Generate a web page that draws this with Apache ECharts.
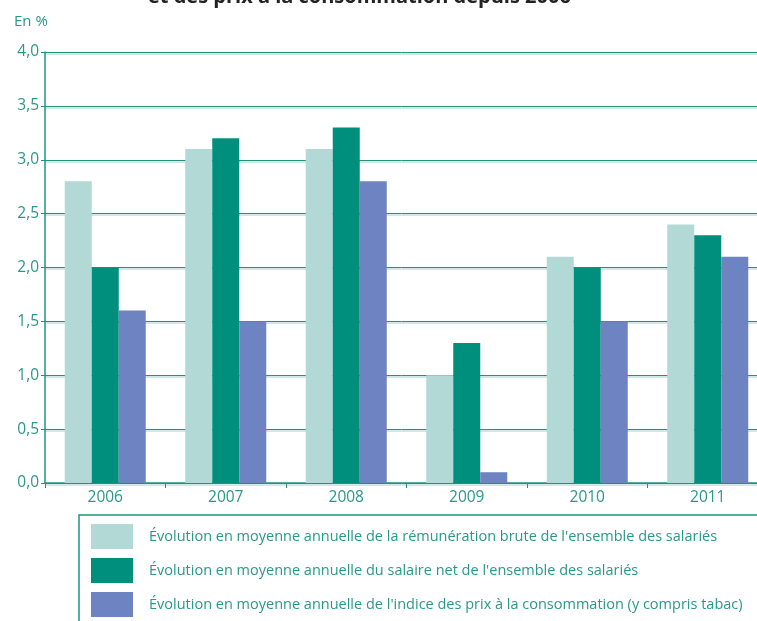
<!DOCTYPE html>
<html>
<head>
<meta charset="utf-8">
<script src="https://cdn.jsdelivr.net/npm/echarts@6/dist/echarts.min.js"></script>
<style>
html, body { margin: 0; padding: 0; background: #fff; }
#cn { width: 757px; height: 621px; }
</style>
</head>
<body>
<div id="cn"></div>
<script>
'use strict';

const arrYears = ['2006', '2007', '2008', '2009', '2010', '2011'];
const arrBrute = [2.8, 3.1, 3.1, 1.0, 2.1, 2.4];
const arrNet = [2.0, 3.2, 3.3, 1.3, 2.0, 2.3];
const arrPrix = [1.6, 1.5, 2.8, 0.1, 1.5, 2.1];
const arrNames = [
    "Évolution en moyenne annuelle de la rémunération brute de l'ensemble des salariés",
    "Évolution en moyenne annuelle du salaire net de l'ensemble des salariés",
    "Évolution en moyenne annuelle de l'indice des prix à la consommation (y compris tabac)"
];

const teal = '#1f9483';
const txtColor = '#2a9888';
const font = 'Open Sans';

const chart = echarts.init(document.getElementById('cn'), null, { renderer: 'canvas' });

const option = {
    animation: false,
    textStyle: { fontFamily: font },
    graphic: [{
            type: 'text',
            left: 148,
            top: -13,
            style: {
                text: 'et des prix à la consommation depuis 2006',
                font: 'bold 20px "Open Sans"',
                fill: '#222'
            }
        },
        {
            type: 'text',
            left: 14,
            top: 14,
            style: {
                text: 'En %',
                font: '15px "Open Sans"',
                fill: txtColor
            }
        }
    ],
    grid: {
        left: 45,
        top: 52,
        width: 723, // la grille dépasse le bord droit comme sur l'original
        bottom: 138,
        outerBoundsMode: 'none'
    },
    xAxis: {
        type: 'category',
        data: arrYears,
        axisLine: { lineStyle: { color: teal, width: 1.5 } },
        axisTick: { show: true, length: 5, lineStyle: { color: teal } },
        axisLabel: { color: txtColor, fontSize: 15.5, margin: 7, fontFamily: font }
    },
    yAxis: {
        type: 'value',
        min: 0,
        max: 4,
        interval: 0.5,
        axisLine: { show: true, lineStyle: { color: teal, width: 1.5 } },
        axisTick: { show: true, length: 4, lineStyle: { color: teal } },
        axisLabel: {
            color: txtColor,
            fontSize: 15.5,
            margin: 6,
            fontFamily: font,
            formatter: v => v.toFixed(1).replace('.', ',')
        },
        splitLine: {
            lineStyle: {
                color: '#2b8f80',
                width: 1,
                shadowColor: '#9fd3cb',
                shadowBlur: 0,
                shadowOffsetY: 1.5
            }
        }
    },
    legend: {
        orient: 'vertical',
        left: 79,
        top: 515,
        height: 300,
        padding: [9, 20, 10, 12],
        borderColor: teal,
        borderWidth: 1.5,
        itemWidth: 42,
        itemHeight: 25,
        itemGap: 9,
        icon: 'rect',
        textStyle: {
            color: txtColor,
            fontSize: 14.5,
            fontFamily: font,
            padding: [0, 0, 0, 11]
        },
        data: arrNames
    },
    series: [{
            name: arrNames[0],
            type: 'bar',
            barWidth: 27,
            barGap: '0%',
            itemStyle: { color: '#b3d9d6' },
            data: arrBrute
        },
        {
            name: arrNames[1],
            type: 'bar',
            barWidth: 27,
            barGap: '0%',
            itemStyle: { color: '#008f7c' },
            data: arrNet
        },
        {
            name: arrNames[2],
            type: 'bar',
            barWidth: 27,
            barGap: '0%',
            itemStyle: { color: '#6e83c1' },
            data: arrPrix
        }
    ]
};

chart.setOption(option);
</script>
</body>
</html>
